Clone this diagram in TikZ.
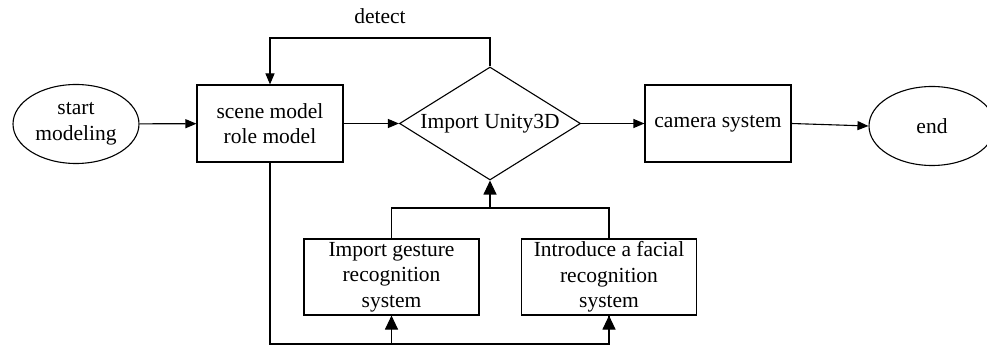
\documentclass[tikz,border=0pt]{standalone}
\usepackage{fontspec}
\setmainfont{Liberation Serif}
\usetikzlibrary{shapes.geometric,arrows.meta}
\begin{document}
\begin{tikzpicture}[x=1pt,y=-1pt,
  every node/.style={font=\fontsize{21.5}{25.5}\selectfont, line width=1.1pt, align=center, inner sep=0pt},
  ell/.style={draw, ellipse, minimum width=126, minimum height=79},
  box/.style={draw, rectangle, minimum width=146, minimum height=77},
  sbox/.style={draw, rectangle, minimum width=175, minimum height=76},
  dia/.style={draw, diamond, minimum width=181, minimum height=113, aspect=1.6},
  conn/.style={line width=1.1pt},
  arr/.style={conn, -{Triangle[length=11pt,width=9pt]}},
  bigarr/.style={conn, -{Triangle[length=14pt,width=13pt]}}
]
\useasboundingbox (0,0) rectangle (987,347);
\node[ell] (start) at (76,124) {start\\modeling};
\node[box] (scene) at (270,123.5) {scene model\\role model};
\node[dia] (imp) at (490,123.5) {Import Unity3D};
\node[box] (cam) at (718,123.5) {camera system};
\node[ell] (endn) at (932,126) {end};
\node[sbox] (gest) at (391.5,277) {Import gesture\\recognition\\system};
\node[sbox] (face) at (609,277) {Introduce a facial\\recognition\\system};
\node (det) at (380,16) {detect};
\coordinate (dtop) at (380,38);
\coordinate (jt) at (490,208);
\coordinate (bl) at (500,344);

\draw[arr] (start) -- (scene);
\draw[arr] (scene) -- (imp);
\draw[arr] (imp) -- (cam);
\draw[arr] (cam.east) -- (endn.west);
\draw[arr] (imp.north) |- (dtop) -| (scene.north);
\draw[conn] (gest.north) |- (jt) -| (face.north);
\draw[bigarr] (jt) -- (imp.south);
\draw[conn] (scene.south) |- (bl) -| (face.south);
\draw[bigarr] (gest.south |- bl) -- (gest.south);
\draw[bigarr] (face.south |- bl) -- (face.south);
\end{tikzpicture}
\end{document}
